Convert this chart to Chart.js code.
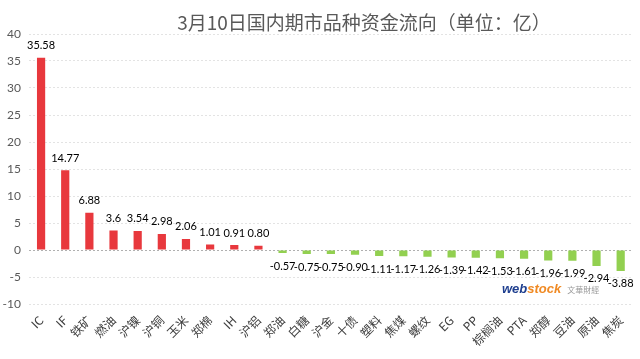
<!DOCTYPE html>
<html><head><meta charset="utf-8">
<script src="https://cdn.jsdelivr.net/npm/chart.js@4/dist/chart.umd.min.js"></script>
<style>
html,body{margin:0;padding:0;background:#fff;}
#wrap{position:relative;width:640px;height:359px;}
#title{position:absolute;left:0;top:9px;width:728px;text-align:center;font-family:"Noto Sans CJK SC",sans-serif;font-size:19px;color:#595959;line-height:26px;}
#wm{position:absolute;left:502px;top:281px;font-family:"Liberation Sans",sans-serif;font-size:13px;font-weight:bold;font-style:italic;color:#1f3f8f;}
#wm span.o{color:#f08a24;}
#wm span.c{font-style:normal;font-weight:normal;font-size:8px;color:#9a9a9a;font-family:"Noto Sans CJK SC",sans-serif;margin-left:6px;}
canvas{position:absolute;left:0;top:0;}
</style></head>
<body>
<div id="wrap">
<canvas id="c" width="640" height="359"></canvas>
<div id="title">3月10日国内期市品种资金流向（单位：亿）</div>
<div id="wm">web<span class="o">stock</span><span class="c">文華財經</span></div>
</div>
<script>
const categories = ["IC","IF","铁矿","燃油","沪镍","沪铜","玉米","郑棉","IH","沪铝","郑油","白糖","沪金","十债","塑料","焦煤","螺纹","EG","PP","棕榈油","PTA","郑醇","豆油","原油","焦炭"];
const values = [35.58,14.77,6.88,3.6,3.54,2.98,2.06,1.01,0.91,0.80,-0.57,-0.75,-0.75,-0.90,-1.11,-1.17,-1.26,-1.39,-1.42,-1.53,-1.61,-1.96,-1.99,-2.94,-3.88];
const valueLabels = ["35.58","14.77","6.88","3.6","3.54","2.98","2.06","1.01","0.91","0.80","-0.57","-0.75","-0.75","-0.90","-1.11","-1.17","-1.26","-1.39","-1.42","-1.53","-1.61","-1.96","-1.99","-2.94","-3.88"];
const yMin = -10, yMax = 40, yStep = 5;

const labelPlugin = {
  id:'vlabels',
  afterDatasetsDraw(chart){
    const ctx = chart.ctx;
    const meta = chart.getDatasetMeta(0);
    ctx.save();
    ctx.font = '11px Lato, "Liberation Sans", sans-serif';
    ctx.fillStyle = '#000';
    ctx.textAlign = 'center';
    ctx.textBaseline = 'middle';
    meta.data.forEach((bar,i)=>{
      const v = values[i];
      const y = v >= 0 ? bar.y - 12 : bar.y + 13;
      ctx.fillText(valueLabels[i], bar.x, y);
    });
    ctx.restore();
  }
};

new Chart(document.getElementById('c'), {
  type:'bar',
  data:{
    labels:categories,
    datasets:[{
      data:values,
      backgroundColor:values.map(v=>v>=0?'#e8383d':'#92d050'),
      barPercentage:0.34,
      categoryPercentage:1.0
    }]
  },
  options:{
    responsive:false,
    animation:false,
    devicePixelRatio:1,
    layout:{padding:{top:34,right:7,left:0,bottom:0}},
    plugins:{legend:{display:false},title:{display:false},tooltip:{enabled:false}},
    scales:{
      x:{
        grid:{display:false,drawTicks:false},
        border:{display:false},
        ticks:{minRotation:45,maxRotation:45,autoSkip:false,color:'#404040',padding:9,
          font:{family:'"Noto Sans CJK SC", sans-serif',size:12}},
        afterFit(s){s.height=55;}
      },
      y:{
        min:yMin,max:yMax,
        ticks:{stepSize:yStep,color:'#595959',padding:8,font:{family:'Lato, "Liberation Sans", sans-serif',size:12}},
        grid:{drawTicks:false,color:(c)=>c.tick && c.tick.value===0?'#b0b0b0':'#e3e3e3',lineWidth:1},
        border:{display:false,dash:[2,2]},
        afterFit(s){s.width=29;}
      }
    }
  },
  plugins:[labelPlugin]
});
</script>
</body></html>
